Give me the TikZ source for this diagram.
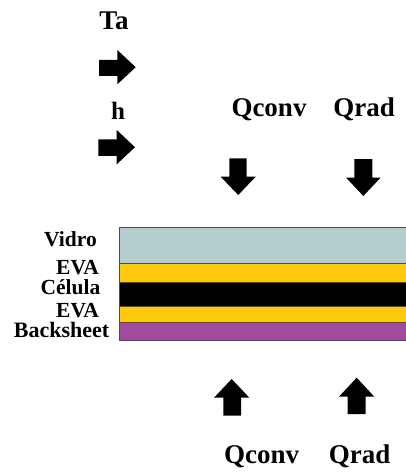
\documentclass[tikz,border=0pt]{standalone}
\usepackage{fontspec}
\setmainfont{Liberation Serif}
\definecolor{vidro}{HTML}{B4CDCD}
\definecolor{eva}{HTML}{FFC90D}
\definecolor{back}{HTML}{A14B9F}
\definecolor{edge}{HTML}{4D4D4D}
\tikzset{
  lbl/.style={inner sep=0pt,font=\bfseries\fontsize{27}{27}\selectfont},
  layerlbl/.style={inner sep=0pt,anchor=base east,font=\bfseries\fontsize{21.5}{21.5}\selectfont},
  layer/.style={draw=edge,line width=1pt},
  blk/.style={fill=black,draw=none}
}
\begin{document}
\begin{tikzpicture}[x=1pt,y=-1pt]
\useasboundingbox (0,0) rectangle (405,473);
% top-left labels and right arrows
\node[lbl,anchor=base] (ta) at (114,30) {Ta};
\node[lbl,anchor=base,font=\bfseries\fontsize{25}{25}\selectfont] (h) at (118,120) {h};
\fill[blk] (99,60) -- (117.3,60) -- (117.3,50) -- (135.7,67.2) -- (117.3,84.3) -- (117.3,76) -- (99,76) -- cycle;
\fill[blk] (98.3,139.3) -- (116.7,139.3) -- (116.7,130) -- (135,147.2) -- (116.7,164.3) -- (116.7,156) -- (98.3,156) -- cycle;
% top labels and down arrows
\node[lbl,anchor=base] (qc1) at (269,117) {Qconv};
\node[lbl,anchor=base] (qr1) at (364,117) {Qrad};
\fill[blk] (229.3,158.3) -- (246.7,158.3) -- (246.7,176.7) -- (255.7,176.7) -- (238.2,195) -- (220.7,176.7) -- (229.3,176.7) -- cycle;
\fill[blk] (354.3,159) -- (372.3,159) -- (372.3,177.5) -- (380.7,177.5) -- (363.3,196) -- (346,177.5) -- (354.3,177.5) -- cycle;
% layers
\draw[layer,fill=vidro] (119.3,227.3) rectangle (406,263.3);
\draw[layer,fill=eva] (119.3,263.3) rectangle (406,282.7);
\draw[layer,fill=black] (119.3,282.7) rectangle (406,306);
\draw[layer,fill=eva] (119.3,306) rectangle (406,322.3);
\draw[layer,fill=back] (119.3,322.3) rectangle (406,340);
\node[layerlbl] (l1) at (97,246) {Vidro};
\node[layerlbl] (l2) at (99,274) {EVA};
\node[layerlbl] (l3) at (100.5,294.5) {Célula};
\node[layerlbl] (l4) at (99,317.3) {EVA};
\node[layerlbl,font=\bfseries\fontsize{22}{22}\selectfont] (l5) at (109.5,337.5) {Backsheet};
% bottom up arrows and labels
\fill[blk] (223.3,415.7) -- (241,415.7) -- (241,397.7) -- (249.3,397.7) -- (231.7,379) -- (214,397.7) -- (223.3,397.7) -- cycle;
\fill[blk] (347.7,414) -- (365.7,414) -- (365.7,396.7) -- (374.3,396.7) -- (356.7,377.7) -- (339,396.7) -- (347.7,396.7) -- cycle;
\node[lbl,anchor=base] (qc2) at (261.7,463.3) {Qconv};
\node[lbl,anchor=base] (qr2) at (359.7,463.3) {Qrad};
\end{tikzpicture}
\end{document}
